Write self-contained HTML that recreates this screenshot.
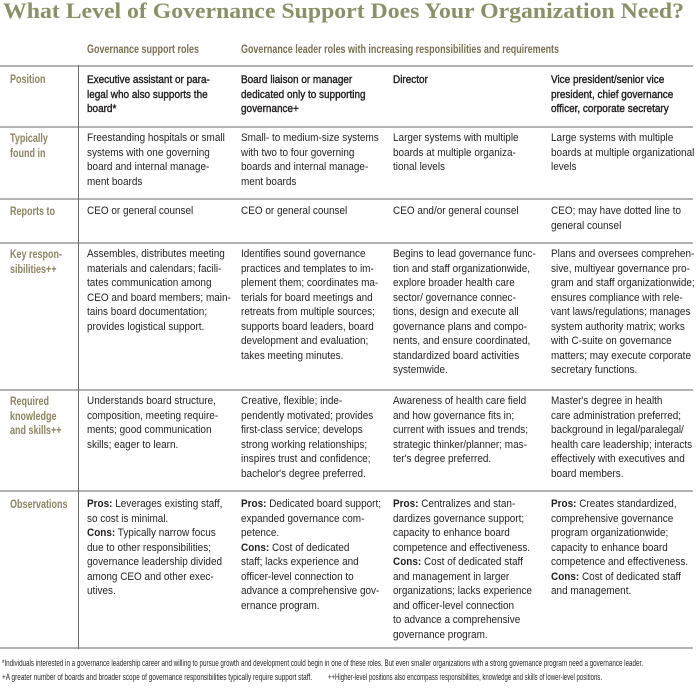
<!DOCTYPE html>
<html><head><meta charset="utf-8">
<style>
html,body{margin:0;padding:0;background:#fff;}
body{width:700px;height:690px;position:relative;overflow:hidden;font-family:"Liberation Sans",Arial,sans-serif;}
.t{position:absolute;left:3px;top:-2px;font-family:"Liberation Serif",serif;font-weight:bold;font-size:22px;line-height:26px;color:#8a9166;white-space:nowrap;transform-origin:0 0;}
.h{position:absolute;top:42px;font-weight:bold;font-size:12px;line-height:14px;color:#7a7052;white-space:nowrap;transform-origin:0 0;}
.lab{position:absolute;left:10px;font-weight:bold;font-size:12px;line-height:14.5px;color:#8c8462;white-space:nowrap;transform:scaleX(0.75);transform-origin:0 0;}
.c{position:absolute;font-size:11px;line-height:14.5px;color:#231f20;white-space:nowrap;transform:scaleX(0.905);transform-origin:0 0;}
.hl{position:absolute;left:0;width:693px;height:2px;background:#b3b3b3;}
.vl{position:absolute;left:78px;top:65px;width:1px;height:584px;background:#6e6e6e;}
.fn{position:absolute;font-size:9.5px;line-height:11px;color:#231f20;white-space:nowrap;transform-origin:0 0;}
.sb{-webkit-text-stroke:0.4px #231f20;}
b{font-weight:bold;}
</style></head>
<body>
<div class="t fit" style="--w:681px">What Level of Governance Support Does Your Organization Need?</div>

<div class="h fit" style="left:87px;--w:112px">Governance support roles</div>
<div class="h fit" style="left:241px;--w:318px">Governance leader roles with increasing responsibilities and requirements</div>

<div class="hl" style="top:65px"></div>
<div class="hl" style="top:126px"></div>
<div class="hl" style="top:198px"></div>
<div class="hl" style="top:242px"></div>
<div class="hl" style="top:389px"></div>
<div class="hl" style="top:490px"></div>
<div class="hl" style="top:647px"></div>
<div class="vl"></div>

<!-- labels -->
<div class="lab" style="top:72px">Position</div>
<div class="lab" style="top:131px">Typically<br>found in</div>
<div class="lab" style="top:204px">Reports to</div>
<div class="lab" style="top:247px">Key respon-<br>sibilities++</div>
<div class="lab" style="top:394px">Required<br>knowledge<br>and skills++</div>
<div class="lab" style="top:497px">Observations</div>

<!-- Position -->
<div class="c sb" style="left:87px;top:73px">Executive assistant or para-<br>legal who also supports the<br>board*</div>
<div class="c sb" style="left:241px;top:73px">Board liaison or manager<br>dedicated only to supporting<br>governance+</div>
<div class="c sb" style="left:393px;top:73px">Director</div>
<div class="c sb" style="left:551px;top:73px">Vice president/senior vice<br>president, chief governance<br>officer, corporate secretary</div>

<!-- Typically found in -->
<div class="c" style="left:87px;top:131px">Freestanding hospitals or small<br>systems with one governing<br>board and internal manage-<br>ment boards</div>
<div class="c" style="left:241px;top:131px">Small- to medium-size systems<br>with two to four governing<br>boards and internal manage-<br>ment boards</div>
<div class="c" style="left:393px;top:131px">Larger systems with multiple<br>boards at multiple organiza-<br>tional levels</div>
<div class="c" style="left:551px;top:131px">Large systems with multiple<br>boards at multiple organizational<br>levels</div>

<!-- Reports to -->
<div class="c" style="left:87px;top:204px">CEO or general counsel</div>
<div class="c" style="left:241px;top:204px">CEO or general counsel</div>
<div class="c" style="left:393px;top:204px">CEO and/or general counsel</div>
<div class="c" style="left:551px;top:204px">CEO; may have dotted line to<br>general counsel</div>

<!-- Key responsibilities -->
<div class="c" style="left:87px;top:247px">Assembles, distributes meeting<br>materials and calendars; facili-<br>tates communication among<br>CEO and board members; main-<br>tains board documentation;<br>provides logistical support.</div>
<div class="c" style="left:241px;top:247px">Identifies sound governance<br>practices and templates to im-<br>plement them; coordinates ma-<br>terials for board meetings and<br>retreats from multiple sources;<br>supports board leaders, board<br>development and evaluation;<br>takes meeting minutes.</div>
<div class="c" style="left:393px;top:247px">Begins to lead governance func-<br>tion and staff organizationwide,<br>explore broader health care<br>sector/ governance connec-<br>tions, design and execute all<br>governance plans and compo-<br>nents, and ensure coordinated,<br>standardized board activities<br>systemwide.</div>
<div class="c" style="left:551px;top:247px">Plans and oversees comprehen-<br>sive, multiyear governance pro-<br>gram and staff organizationwide;<br>ensures compliance with rele-<br>vant laws/regulations; manages<br>system authority matrix; works<br>with C-suite on governance<br>matters; may execute corporate<br>secretary functions.</div>

<!-- Required knowledge -->
<div class="c" style="left:87px;top:394px">Understands board structure,<br>composition, meeting require-<br>ments; good communication<br>skills; eager to learn.</div>
<div class="c" style="left:241px;top:394px">Creative, flexible; inde-<br>pendently motivated; provides<br>first-class service; develops<br>strong working relationships;<br>inspires trust and confidence;<br>bachelor's degree preferred.</div>
<div class="c" style="left:393px;top:394px">Awareness of health care field<br>and how governance fits in;<br>current with issues and trends;<br>strategic thinker/planner; mas-<br>ter's degree preferred.</div>
<div class="c" style="left:551px;top:394px">Master's degree in health<br>care administration preferred;<br>background in legal/paralegal/<br>health care leadership; interacts<br>effectively with executives and<br>board members.</div>

<!-- Observations -->
<div class="c" style="left:87px;top:497px"><b>Pros:</b> Leverages existing staff,<br>so cost is minimal.<br><b>Cons:</b> Typically narrow focus<br>due to other responsibilities;<br>governance leadership divided<br>among CEO and other exec-<br>utives.</div>
<div class="c" style="left:241px;top:497px"><b>Pros:</b> Dedicated board support;<br>expanded governance com-<br>petence.<br><b>Cons:</b> Cost of dedicated<br>staff; lacks experience and<br>officer-level connection to<br>advance a comprehensive gov-<br>ernance program.</div>
<div class="c" style="left:393px;top:497px"><b>Pros:</b> Centralizes and stan-<br>dardizes governance support;<br>capacity to enhance board<br>competence and effectiveness.<br><b>Cons:</b> Cost of dedicated staff<br>and management in larger<br>organizations; lacks experience<br>and officer-level connection<br>to advance a comprehensive<br>governance program.</div>
<div class="c" style="left:551px;top:497px"><b>Pros:</b> Creates standardized,<br>comprehensive governance<br>program organizationwide;<br>capacity to enhance board<br>competence and effectiveness.<br><b>Cons:</b> Cost of dedicated staff<br>and management.</div>

<!-- footnotes -->
<div class="fn fit" style="left:2px;top:658px;--w:641px">*Individuals interested in a governance leadership career and willing to pursue growth and development could begin in one of these roles. But even smaller organizations with a strong governance program need a governance leader.</div>
<div class="fn fit" style="left:2px;top:672px;--w:310px">+A greater number of boards and broader scope of governance responsibilities typically require support staff.</div>
<div class="fn fit" style="left:328px;top:672px;--w:274px">++Higher-level positions also encompass responsibilities, knowledge and skills of lower-level positions.</div>

<script>
(function(){
  var els=document.querySelectorAll('.fit');
  for(var i=0;i<els.length;i++){
    var e=els[i];
    var w=parseFloat(e.style.getPropertyValue('--w'));
    var n=e.getBoundingClientRect().width;
    if(w&&n){e.style.transform='scaleX('+(w/n)+')';}
  }
})();
</script>
</body></html>
